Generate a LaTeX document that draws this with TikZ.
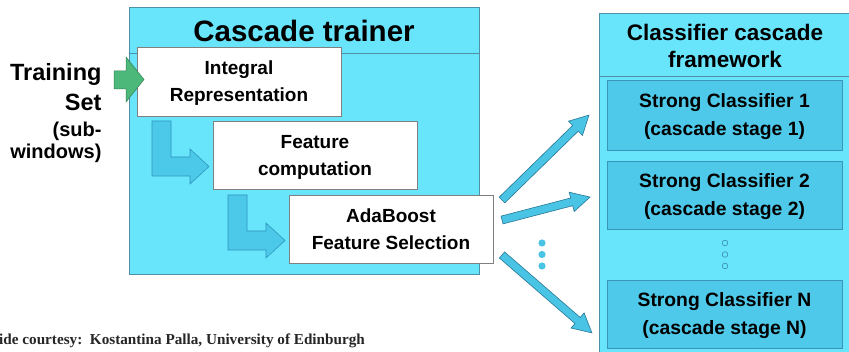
\documentclass[tikz,border=0pt]{standalone}
\usepackage{fontspec}
\setmainfont{Liberation Sans}
\newfontfamily\footfont{Liberation Serif}
\usepackage{tikz}
\usetikzlibrary{calc}
\usepackage{xcolor}
\definecolor{panel}{RGB}{104,228,251}
\definecolor{stage}{RGB}{78,201,233}
\definecolor{stageline}{RGB}{58,150,185}
\definecolor{flow}{RGB}{76,200,232}
\definecolor{flowline}{RGB}{46,150,190}
\definecolor{outfill}{RGB}{74,196,228}
\definecolor{outline}{RGB}{40,120,150}
\definecolor{feed}{RGB}{76,184,122}

\begin{document}
\begin{tikzpicture}[
  x=1pt,y=-1pt,
  panelbox/.style={draw=stageline!70!gray,fill=panel},
  stepbox/.style={draw=gray,fill=white,line width=0.6pt},
  stagebox/.style={draw=stageline,fill=stage,line width=0.7pt},
  lbl/.style={font=\fontsize{19}{27}\selectfont\bfseries,align=center,text depth=-0.5pt},
  stagelbl/.style={font=\fontsize{19.3}{28}\selectfont\bfseries,align=center,text depth=-2.5pt},
  pics/elbow/.style={code={
    \draw[draw=flowline,fill=flow,line width=0.6pt]
      (0,0) -- (19,0) -- (19,36) -- (38,36) -- (38,28) -- (57,45.5)
      -- (38,63) -- (38,55) -- (0,55) -- cycle;}},
  pics/outarrow/.style={code={
    \draw[draw=outline,fill=outfill,line width=0.6pt]
      (0,-4) -- (#1-19,-4) -- (#1-19,-10) -- (#1,0) -- (#1-19,10)
      -- (#1-19,4) -- (0,4) -- cycle;}}
  ]
\clip (0,0) rectangle (849,352);
\fill[white] (0,0) rectangle (849,352);
% trainer panel
\draw[panelbox] (129,7) rectangle (479,274);
\draw[draw=stageline!70!gray] (129,53) -- (479,53);
\node[font=\fontsize{29.5}{32}\selectfont\bfseries] (trainer) at (304,31) {Cascade trainer};
\node[anchor=east,font=\fontsize{23.5}{30}\selectfont\bfseries,align=right] (train) at (105,87)
  {Training\\Set};
\node[anchor=north east,font=\fontsize{20}{22}\selectfont\bfseries,align=right] (sub) at (105,118)
  {(sub-\\windows)};
% steps
\node[stepbox,minimum width=204,minimum height=69,lbl] (integral) at (239,81.5)
  {Integral\\Representation};
\node[stepbox,minimum width=204,minimum height=68,lbl] (feature) at (315,155)
  {Feature\\computation};
\node[stepbox,minimum width=204,minimum height=68,lbl] (ada) at (391,229)
  {AdaBoost\\Feature Selection};
\pic at (152,121) {elbow};
\pic at (228,195) {elbow};
\draw[draw=feed!70!black,fill=feed,line width=0.5pt]
  (114,71) -- (126,71) -- (126,57) -- (144,79.5) -- (126,102) -- (126,89) -- (114,89) -- cycle;
% output arrows
\pic[rotate=44.3] at (502,200) {outarrow=121.6};
\pic[rotate=14.6] at (502,220) {outarrow=91};
\pic[rotate=-40.9] at (502,255) {outarrow=119};
\foreach \y in {243,254.5,266}
  \fill[outfill] (542,\y) circle (3.6);
% cascade panel
\draw[panelbox] (599,13) rectangle (860,360);
\draw[draw=stageline!70!gray] (599,76) -- (860,76);
\node[font=\fontsize{22.5}{27}\selectfont\bfseries,align=center] (cascade) at (725,45.5)
  {Classifier cascade\\framework};
\node[stagebox,minimum width=235,minimum height=70,stagelbl] (sc1) at (724.5,115)
  {Strong Classifier 1\\(cascade stage 1)};
\node[stagebox,minimum width=235,minimum height=68,stagelbl] (sc2) at (724.5,195)
  {Strong Classifier 2\\(cascade stage 2)};
\node[stagebox,minimum width=235,minimum height=68,stagelbl] (scN) at (724.5,314)
  {Strong Classifier N\\(cascade stage N)};
\foreach \y in {243,254.5,266}
  \draw[stageline,line width=0.7pt] (725,\y) circle (2.8);
% footer
\node[anchor=west,inner sep=0pt,font=\footfont\fontsize{15.2}{18}\selectfont\bfseries,text=black!85] (credit) at (-1,341)
  {ide courtesy:\ \ Kostantina Palla, University of Edinburgh};
\end{tikzpicture}
\end{document}
